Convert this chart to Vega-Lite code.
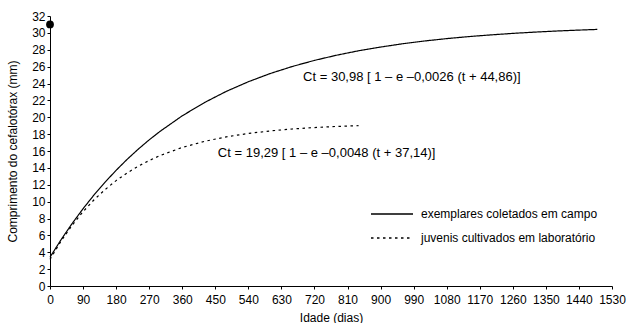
{
  "$schema": "https://vega.github.io/schema/vega-lite/v6.json",
  "width": 562,
  "height": 270,
  "autosize": "none",
  "padding": {"left": 50, "top": 16, "right": 18, "bottom": 37},
  "background": "white",
  "config": {
    "view": {"stroke": null},
    "font": "Liberation Sans"
  },
  "datasets": {
    "curves": [
      {"t": 0, "c": 3.41, "serie": "exemplares coletados em campo"},
      {"t": 30, "c": 5.48, "serie": "exemplares coletados em campo"},
      {"t": 60, "c": 7.39, "serie": "exemplares coletados em campo"},
      {"t": 90, "c": 9.16, "serie": "exemplares coletados em campo"},
      {"t": 120, "c": 10.80, "serie": "exemplares coletados em campo"},
      {"t": 150, "c": 12.31, "serie": "exemplares coletados em campo"},
      {"t": 180, "c": 13.71, "serie": "exemplares coletados em campo"},
      {"t": 210, "c": 15.01, "serie": "exemplares coletados em campo"},
      {"t": 240, "c": 16.21, "serie": "exemplares coletados em campo"},
      {"t": 270, "c": 17.32, "serie": "exemplares coletados em campo"},
      {"t": 300, "c": 18.34, "serie": "exemplares coletados em campo"},
      {"t": 360, "c": 20.17, "serie": "exemplares coletados em campo"},
      {"t": 420, "c": 21.73, "serie": "exemplares coletados em campo"},
      {"t": 480, "c": 23.07, "serie": "exemplares coletados em campo"},
      {"t": 540, "c": 24.21, "serie": "exemplares coletados em campo"},
      {"t": 600, "c": 25.19, "serie": "exemplares coletados em campo"},
      {"t": 660, "c": 26.02, "serie": "exemplares coletados em campo"},
      {"t": 720, "c": 26.74, "serie": "exemplares coletados em campo"},
      {"t": 780, "c": 27.35, "serie": "exemplares coletados em campo"},
      {"t": 840, "c": 27.88, "serie": "exemplares coletados em campo"},
      {"t": 900, "c": 28.32, "serie": "exemplares coletados em campo"},
      {"t": 960, "c": 28.71, "serie": "exemplares coletados em campo"},
      {"t": 1020, "c": 29.04, "serie": "exemplares coletados em campo"},
      {"t": 1080, "c": 29.32, "serie": "exemplares coletados em campo"},
      {"t": 1140, "c": 29.56, "serie": "exemplares coletados em campo"},
      {"t": 1200, "c": 29.76, "serie": "exemplares coletados em campo"},
      {"t": 1260, "c": 29.94, "serie": "exemplares coletados em campo"},
      {"t": 1320, "c": 30.09, "serie": "exemplares coletados em campo"},
      {"t": 1380, "c": 30.22, "serie": "exemplares coletados em campo"},
      {"t": 1440, "c": 30.33, "serie": "exemplares coletados em campo"},
      {"t": 1490, "c": 30.41, "serie": "exemplares coletados em campo"},
      {"t": 0, "c": 3.15, "serie": "juvenis cultivados em laboratório"},
      {"t": 30, "c": 5.31, "serie": "juvenis cultivados em laboratório"},
      {"t": 60, "c": 7.19, "serie": "juvenis cultivados em laboratório"},
      {"t": 90, "c": 8.81, "serie": "juvenis cultivados em laboratório"},
      {"t": 120, "c": 10.22, "serie": "juvenis cultivados em laboratório"},
      {"t": 150, "c": 11.43, "serie": "juvenis cultivados em laboratório"},
      {"t": 180, "c": 12.49, "serie": "juvenis cultivados em laboratório"},
      {"t": 210, "c": 13.40, "serie": "juvenis cultivados em laboratório"},
      {"t": 240, "c": 14.19, "serie": "juvenis cultivados em laboratório"},
      {"t": 270, "c": 14.87, "serie": "juvenis cultivados em laboratório"},
      {"t": 300, "c": 15.47, "serie": "juvenis cultivados em laboratório"},
      {"t": 360, "c": 16.42, "serie": "juvenis cultivados em laboratório"},
      {"t": 420, "c": 17.14, "serie": "juvenis cultivados em laboratório"},
      {"t": 480, "c": 17.68, "serie": "juvenis cultivados em laboratório"},
      {"t": 540, "c": 18.08, "serie": "juvenis cultivados em laboratório"},
      {"t": 600, "c": 18.38, "serie": "juvenis cultivados em laboratório"},
      {"t": 660, "c": 18.61, "serie": "juvenis cultivados em laboratório"},
      {"t": 720, "c": 18.78, "serie": "juvenis cultivados em laboratório"},
      {"t": 780, "c": 18.91, "serie": "juvenis cultivados em laboratório"},
      {"t": 840, "c": 19.00, "serie": "juvenis cultivados em laboratório"}
    ],
    "labels": [
      {"t": 689, "c": 24.8, "txt": "Ct = 30,98 [ 1 – e –0,0026 (t + 44,86)]"},
      {"t": 457, "c": 15.8, "txt": "Ct = 19,29 [ 1 – e –0,0048 (t + 37,14)]"}
    ],
    "point": [
      {"t": 0, "c": 31}
    ]
  },
  "encoding": {
    "x": {"field": "t", "type": "quantitative", "scale": {"domain": [0, 1530], "nice": false},
      "axis": {"values": [0, 90, 180, 270, 360, 450, 540, 630, 720, 810, 900, 990, 1080, 1170, 1260, 1350, 1440, 1530], "format": "d", "title": "Idade (dias)", "grid": false, "domainColor": "#000", "tickColor": "#000", "tickSize": 3, "labelColor": "#000", "titleColor": "#000", "labelFont": "Liberation Sans", "titleFont": "Liberation Sans", "labelFontSize": 12, "titleFontSize": 12, "titleFontWeight": "normal", "labelPadding": 5, "titlePadding": 7, "labelFlush": false, "labelOverlap": false}},
    "y": {"field": "c", "type": "quantitative", "scale": {"domain": [0, 32], "nice": false},
      "axis": {"values": [0, 2, 4, 6, 8, 10, 12, 14, 16, 18, 20, 22, 24, 26, 28, 30, 32], "format": "d", "title": "Comprimento do cefalotórax (mm)", "grid": false, "domainColor": "#000", "tickColor": "#000", "tickSize": 3, "labelColor": "#000", "titleColor": "#000", "labelFont": "Liberation Sans", "titleFont": "Liberation Sans", "labelFontSize": 12, "titleFontSize": 12, "titleFontWeight": "normal", "labelPadding": 2, "titlePadding": 12, "labelFlush": false, "labelOverlap": false}}
  },
  "layer": [
    {
      "data": {"name": "curves"},
      "mark": {"type": "line", "color": "#000", "strokeWidth": 1.2},
      "encoding": {
        "strokeDash": {
          "field": "serie", "type": "nominal",
          "scale": {"domain": ["exemplares coletados em campo", "juvenis cultivados em laboratório"], "range": [[1, 0], [2.5, 3.5]]},
          "legend": {"title": null, "orient": "none", "legendX": 320, "legendY": 189, "symbolType": "stroke", "symbolSize": 1764, "symbolStrokeColor": "#000", "symbolStrokeWidth": 1.5, "labelFont": "Liberation Sans", "labelFontSize": 12, "labelColor": "#000", "labelOffset": 7, "labelLimit": 400, "clipHeight": 18, "rowPadding": 6}
        }
      }
    },
    {
      "data": {"name": "labels"},
      "mark": {"type": "text", "align": "left", "baseline": "middle", "font": "Liberation Sans", "fontSize": 13, "color": "#000"},
      "encoding": {
        "text": {"field": "txt"}
      }
    },
    {
      "data": {"name": "point"},
      "mark": {"type": "point", "filled": true, "color": "#000", "size": 60, "opacity": 1},
      "encoding": {}
    }
  ]
}
